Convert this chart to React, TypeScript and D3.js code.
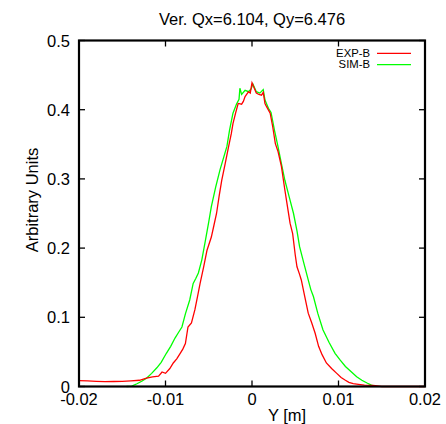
import React from "react";
import * as d3 from "d3";

const title = "Ver. Qx=6.104, Qy=6.476";
const xLabel = "Y [m]";
const yLabel = "Arbitrary Units";
const xTicks = [-0.02, -0.01, 0, 0.01, 0.02];
const xTickLabels = ["-0.02", "-0.01", "0", "0.01", "0.02"];
const yTicks = [0, 0.1, 0.2, 0.3, 0.4, 0.5];
const yTickLabels = ["0", "0.1", "0.2", "0.3", "0.4", "0.5"];
const seriesNames = ["EXP-B", "SIM-B"];

const expX = [
  -0.02, -0.019, -0.018, -0.017, -0.016, -0.015, -0.014, -0.013, -0.0122, -0.0115,
  -0.0108, -0.0104, -0.01, -0.0095, -0.0091, -0.0087, -0.0083, -0.008, -0.0077, -0.0074,
  -0.007, -0.0066, -0.0063, -0.006, -0.0056, -0.0052, -0.0047, -0.0044, -0.0041, -0.0038,
  -0.0035, -0.0031, -0.0027, -0.0024, -0.0022, -0.0019, -0.0016, -0.0012, -0.001, -0.0008,
  -0.0004, -0.0002, 0, 0.0003, 0.0005, 0.0008, 0.0011, 0.0013, 0.0015, 0.0017,
  0.0021, 0.0024, 0.0027, 0.003, 0.0034, 0.0038, 0.0041, 0.0044, 0.0047, 0.005,
  0.0052, 0.0055, 0.0057, 0.0061, 0.0065, 0.0069, 0.0073, 0.0077, 0.0081, 0.0086,
  0.0092, 0.0098, 0.0103, 0.0108, 0.0112, 0.0117, 0.0123, 0.013, 0.014, 0.015, 0.02,
];
const expY = [
  0.0085, 0.008, 0.0075, 0.007, 0.0072, 0.0075, 0.0082, 0.009, 0.012, 0.014,
  0.015, 0.021, 0.019, 0.026, 0.034, 0.04, 0.048, 0.054, 0.062, 0.086,
  0.092, 0.111, 0.13, 0.149, 0.172, 0.197, 0.216, 0.233, 0.25, 0.275,
  0.298, 0.322, 0.347, 0.365, 0.38, 0.395, 0.409, 0.408, 0.412, 0.419,
  0.426, 0.424, 0.439, 0.43, 0.424, 0.422, 0.421, 0.425, 0.409, 0.404,
  0.395, 0.375, 0.351, 0.34, 0.318, 0.284, 0.26, 0.236, 0.221, 0.19,
  0.173, 0.162, 0.154, 0.13, 0.106, 0.092, 0.077, 0.058, 0.046, 0.034,
  0.026, 0.019, 0.013, 0.009, 0.006, 0.004, 0.003, 0.002, 0.0015, 0, 0,
];

const simX = [
  -0.0145, -0.0139, -0.0133, -0.0127, -0.0122, -0.0116, -0.011, -0.0105, -0.0099, -0.0094,
  -0.0089, -0.0085, -0.0081, -0.0077, -0.0072, -0.0068, -0.0065, -0.0062, -0.0058, -0.0054,
  -0.005, -0.0047, -0.0042, -0.0037, -0.0033, -0.0029, -0.0026, -0.0022, -0.0018, -0.0015,
  -0.0014, -0.0012, -0.0008, -0.0004, -0.0001, 0.0001, 0.0005, 0.0009, 0.0013, 0.0015,
  0.0019, 0.0022, 0.0026, 0.003, 0.0034, 0.0038, 0.0043, 0.0048, 0.0052, 0.0055,
  0.006, 0.0065, 0.0068, 0.0071, 0.0076, 0.0082, 0.0089, 0.0096, 0.0102, 0.0108,
  0.0115, 0.0121, 0.0127, 0.0133, 0.0138, 0.0143,
];
const simY = [
  0, 0.0005, 0.004, 0.008, 0.012, 0.019, 0.027, 0.035, 0.048, 0.058,
  0.07, 0.078, 0.086, 0.105, 0.125, 0.149, 0.156, 0.164, 0.183, 0.21,
  0.238, 0.26, 0.288, 0.313, 0.33, 0.347, 0.37, 0.395, 0.408, 0.415,
  0.431, 0.422, 0.428, 0.426, 0.43, 0.437, 0.426, 0.424, 0.429, 0.414,
  0.402, 0.396, 0.37, 0.347, 0.322, 0.298, 0.274, 0.25, 0.225, 0.202,
  0.178, 0.154, 0.14, 0.13, 0.106, 0.082, 0.064, 0.048, 0.038, 0.029,
  0.021, 0.014, 0.009, 0.005, 0.002, 0,
];

const colors = ["#ff0000", "#00ff00"];
const W = 446;
const H = 424;
const L = 79, R = 425, T = 40.5, B = 386.5;
const FONT = "'Liberation Sans', Arial, sans-serif";
const FS = 16.5;

export default function App() {
  const x = d3.scaleLinear().domain([-0.02, 0.02]).range([L, R]);
  const y = d3.scaleLinear().domain([0, 0.5]).range([B, T]);
  const line = d3
    .line<[number, number]>()
    .x((d) => x(d[0]))
    .y((d) => y(d[1]));
  const expPts = expX.map((v, i) => [v, expY[i]] as [number, number]);
  const simPts = simX.map((v, i) => [v, simY[i]] as [number, number]);
  const tickLen = 6;

  return (
    <svg
      width={W}
      height={H}
      style={{ position: "absolute", left: 0, top: 0, background: "#fff" }}
      fontFamily={FONT}
    >
      <rect x={0} y={0} width={W} height={H} fill="#fff" />
      <text x={(L + R) / 2} y={24.5} textAnchor="middle" fontSize={FS} fill="#000">
        {title}
      </text>
      <path d={line(simPts) || ""} fill="none" stroke={colors[1]} strokeWidth={1.3} />
      <path d={line(expPts) || ""} fill="none" stroke={colors[0]} strokeWidth={1.3} />
      {yTicks.map((t) => (
        <g key={"y" + t}>
          <line x1={L} x2={L + tickLen} y1={y(t)} y2={y(t)} stroke="#000" strokeWidth={1.3} />
          <line x1={R} x2={R - tickLen} y1={y(t)} y2={y(t)} stroke="#000" strokeWidth={1.3} />
        </g>
      ))}
      {xTicks.map((t) => (
        <g key={"x" + t}>
          <line x1={x(t)} x2={x(t)} y1={B} y2={B - tickLen} stroke="#000" strokeWidth={1.3} />
          <line x1={x(t)} x2={x(t)} y1={T} y2={T + tickLen} stroke="#000" strokeWidth={1.3} />
        </g>
      ))}
      <rect x={L} y={T} width={R - L} height={B - T} fill="none" stroke="#000" strokeWidth={2.2} />
      {yTicks.map((t, i) => (
        <text key={"yl" + t} x={70} y={y(t) + 6} textAnchor="end" fontSize={FS} fill="#000">
          {yTickLabels[i]}
        </text>
      ))}
      {xTicks.map((t, i) => (
        <text key={"xl" + t} x={x(t)} y={405} textAnchor="middle" fontSize={FS} fill="#000">
          {xTickLabels[i]}
        </text>
      ))}
      <text x={287} y={420.5} textAnchor="middle" fontSize={FS} fill="#000">
        {xLabel}
      </text>
      <text
        transform={`translate(38,200) rotate(-90)`}
        textAnchor="middle"
        fontSize={FS}
        fill="#000"
      >
        {yLabel}
      </text>
      {seriesNames.map((n, i) => (
        <g key={n}>
          <text x={370} y={56.5 + i * 11.6} textAnchor="end" fontSize={11.3} fill="#000">
            {n}
          </text>
          <line x1={377} x2={411} y1={53.3 + i * 11.3} y2={53.3 + i * 11.3} stroke={colors[i]} strokeWidth={1.3} />
        </g>
      ))}
    </svg>
  );
}
